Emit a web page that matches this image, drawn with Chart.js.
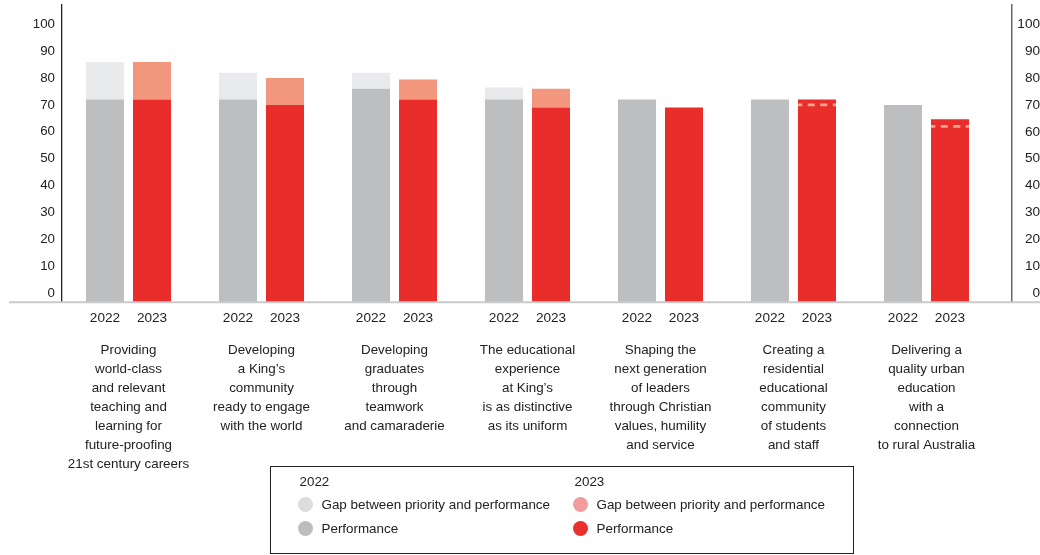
<!DOCTYPE html>
<html>
<head>
<meta charset="utf-8">
<script src="https://cdn.jsdelivr.net/npm/chart.js@4.4.1/dist/chart.umd.min.js"></script>
<style>
html,body{margin:0;padding:0;background:#fff;}
#wrap{position:relative;width:1040px;height:555px;}
#legend{position:absolute;left:270px;top:466px;width:584px;height:88px;box-sizing:border-box;border:1.5px solid #222;
  font-family:'Liberation Sans',Arial,sans-serif;font-size:13.4px;color:#222;}
.col{position:absolute;top:0;height:100%;}
.hdr{position:absolute;left:0;top:4.5px;line-height:20px;white-space:nowrap;}
.item{position:absolute;left:0;height:20px;line-height:20px;white-space:nowrap;}
.dot{position:absolute;left:-1.5px;top:2.5px;width:15px;height:15px;border-radius:50%;}
.lbl{position:absolute;left:22px;top:0;}
</style>
</head>
<body>
<div id="wrap">
<canvas id="c" width="1040" height="555"></canvas>
<div id="legend"></div>
</div>
<script>
// ---- data ----
const categories = [
  ["Providing","world-class","and relevant","teaching and","learning for","future-proofing","21st century careers"],
  ["Developing","a King’s","community","ready to engage","with the world"],
  ["Developing","graduates","through","teamwork","and camaraderie"],
  ["The educational","experience","at King’s","is as distinctive","as its uniform"],
  ["Shaping the","next generation","of leaders","through Christian","values, humility","and service"],
  ["Creating a","residential","educational","community","of students","and staff"],
  ["Delivering a","quality urban","education","with a","connection","to rural Australia"]
];
const years = ["2022", "2023"];
const yTicks = [0, 10, 20, 30, 40, 50, 60, 70, 80, 90, 100];

const performance2022 = [72, 72, 76, 72, 72, 72, 70];
const gap2022         = [14, 10, 6, 4.5, 0, 0, 0];
const performance2023 = [72, 70, 72, 69, 69, 72, 64.7];
const gap2023         = [14, 10, 7.5, 7, 0, 0, 0];
// priority scores that fall below 2023 performance (drawn as dashed marks)
const priorityBelow2023 = [null, null, null, null, null, 70, 62];

// ---- styling ----
const FONT = "'Liberation Sans', Arial, sans-serif";
const CAT_PCT = 0.707;
const BAR_PCT = 0.8085;
const X_MIN = -0.5, X_MAX = 6.643;
const Y_MIN = -3.5, Y_MAX = 107.2;

const toXY = arr => arr.map((v, i) => ({ x: i, y: v }));

const datasets = [
  { label: "Performance", year: "2022", stack: "2022", base: Y_MIN, data: toXY(performance2022), backgroundColor: "#bdbec0", legendColor: "#bcbdc0" },
  { label: "Gap between priority and performance", year: "2022", stack: "2022", data: toXY(gap2022), backgroundColor: "#e9eaec", legendColor: "#dcdddf" },
  { label: "Performance", year: "2023", stack: "2023", base: Y_MIN, data: toXY(performance2023), backgroundColor: "#e82d2b", legendColor: "#e8302d" },
  { label: "Gap between priority and performance", year: "2023", stack: "2023", data: toXY(gap2023), backgroundColor: "#f2977e", legendColor: "#f39c9c" }
];

const baselinePlugin = {
  id: "baseline",
  afterDatasetsDraw(chart) {
    const { ctx, scales: { y } } = chart;
    const yb = y.getPixelForValue(y.min);
    ctx.save();
    ctx.strokeStyle = "#c9cacc";
    ctx.lineWidth = 2;
    ctx.beginPath();
    ctx.moveTo(9, yb);
    ctx.lineTo(chart.width, yb);
    ctx.stroke();
    ctx.restore();
  }
};

const priorityMarkPlugin = {
  id: "priorityMarks",
  afterDatasetsDraw(chart) {
    const { ctx, scales: { y } } = chart;
    const meta = chart.getDatasetMeta(2);
    ctx.save();
    ctx.strokeStyle = "#f5a58f";
    ctx.lineWidth = 2.7;
    ctx.setLineDash([7, 5.5]);
    ctx.lineDashOffset = 2.7;
    priorityBelow2023.forEach((v, i) => {
      if (v == null) return;
      const bar = meta.data[i];
      const py = y.getPixelForValue(v);
      ctx.beginPath();
      ctx.moveTo(bar.x - bar.width / 2, py);
      ctx.lineTo(bar.x + bar.width / 2, py);
      ctx.stroke();
    });
    ctx.restore();
  }
};

const yAxisCommon = {
  type: "linear",
  min: Y_MIN,
  max: Y_MAX,
  stacked: true,
  afterBuildTicks: s => { s.ticks = yTicks.map(v => ({ value: v })); },
  grid: { display: false, drawTicks: false }
};

const chart = new Chart(document.getElementById("c"), {
  type: "bar",
  data: { datasets },
  plugins: [baselinePlugin, priorityMarkPlugin],
  options: {
    responsive: false,
    animation: false,
    devicePixelRatio: 1,
    layout: { padding: { left: 0, right: 0, top: 5, bottom: 66.7 } },
    plugins: { legend: { display: false }, tooltip: { enabled: false } },
    datasets: { bar: { categoryPercentage: CAT_PCT, barPercentage: BAR_PCT, borderWidth: 0 } },
    scales: {
      x: {
        type: "linear", position: "bottom", min: X_MIN, max: X_MAX, weight: 1, offset: false,
        afterBuildTicks: s => { s.ticks = categories.map((_, i) => ({ value: i })); },
        afterFit: s => { s.height = 150; s.paddingLeft = 0; s.paddingRight = 0; },
        grid: { display: false, drawTicks: false, offset: false },
        border: { display: false },
        ticks: {
          autoSkip: false, maxRotation: 0, minRotation: 0, padding: 2.2, color: "#222",
          font: { family: FONT, size: 13.4, lineHeight: "19.1px" },
          callback: v => categories[Math.round(v)]
        }
      },
      xYears: {
        type: "linear", position: "bottom", min: X_MIN, max: X_MAX, weight: 0, offset: false,
        afterBuildTicks: s => {
          const n = years.length;
          s.ticks = categories.flatMap((_, i) =>
            years.map((_, j) => ({ value: i + (j - (n - 1) / 2) * CAT_PCT / n })));
        },
        afterFit: s => { s.height = 36; s.paddingLeft = 0; s.paddingRight = 0; },
        grid: { display: false, drawTicks: false, offset: false },
        border: { display: false },
        ticks: {
          autoSkip: false, maxRotation: 0, minRotation: 0, padding: 6.6, color: "#222",
          font: { family: FONT, size: 13.6, lineHeight: "19.2px" },
          callback: (v, idx) => years[idx % years.length]
        }
      },
      y: Object.assign({}, yAxisCommon, {
        position: "left",
        afterFit: s => { s.width = 62; s.paddingTop = 0; s.paddingBottom = 0; },
        border: { display: true, color: "#222", width: 1.3 },
        ticks: { padding: 7, color: "#222", font: { family: FONT, size: 13.3 } }
      }),
      yRight: Object.assign({}, yAxisCommon, {
        position: "right",
        afterFit: s => { s.width = 28; s.paddingTop = 0; s.paddingBottom = 0; },
        border: { display: true, color: "#666", width: 1.5 },
        ticks: { padding: 2, crossAlign: "far", color: "#222", font: { family: FONT, size: 13.6 } }
      })
    }
  }
});

// ---- HTML legend built from the datasets ----
const legendEl = document.getElementById("legend");
const colLeft = { "2022": 28.5, "2023": 303.5 };
years.forEach(yr => {
  const col = document.createElement("div");
  col.className = "col";
  col.style.left = colLeft[yr] + "px";
  const hdr = document.createElement("div");
  hdr.className = "hdr";
  hdr.textContent = yr;
  col.appendChild(hdr);
  const items = chart.data.datasets.filter(d => d.year === yr).slice().reverse();
  items.forEach((d, k) => {
    const it = document.createElement("div");
    it.className = "item";
    it.style.top = (27.5 + k * 24) + "px";
    const dot = document.createElement("span");
    dot.className = "dot";
    dot.style.background = d.legendColor;
    const lbl = document.createElement("span");
    lbl.className = "lbl";
    lbl.textContent = d.label;
    it.appendChild(dot);
    it.appendChild(lbl);
    col.appendChild(it);
  });
  legendEl.appendChild(col);
});
</script>
</body>
</html>
